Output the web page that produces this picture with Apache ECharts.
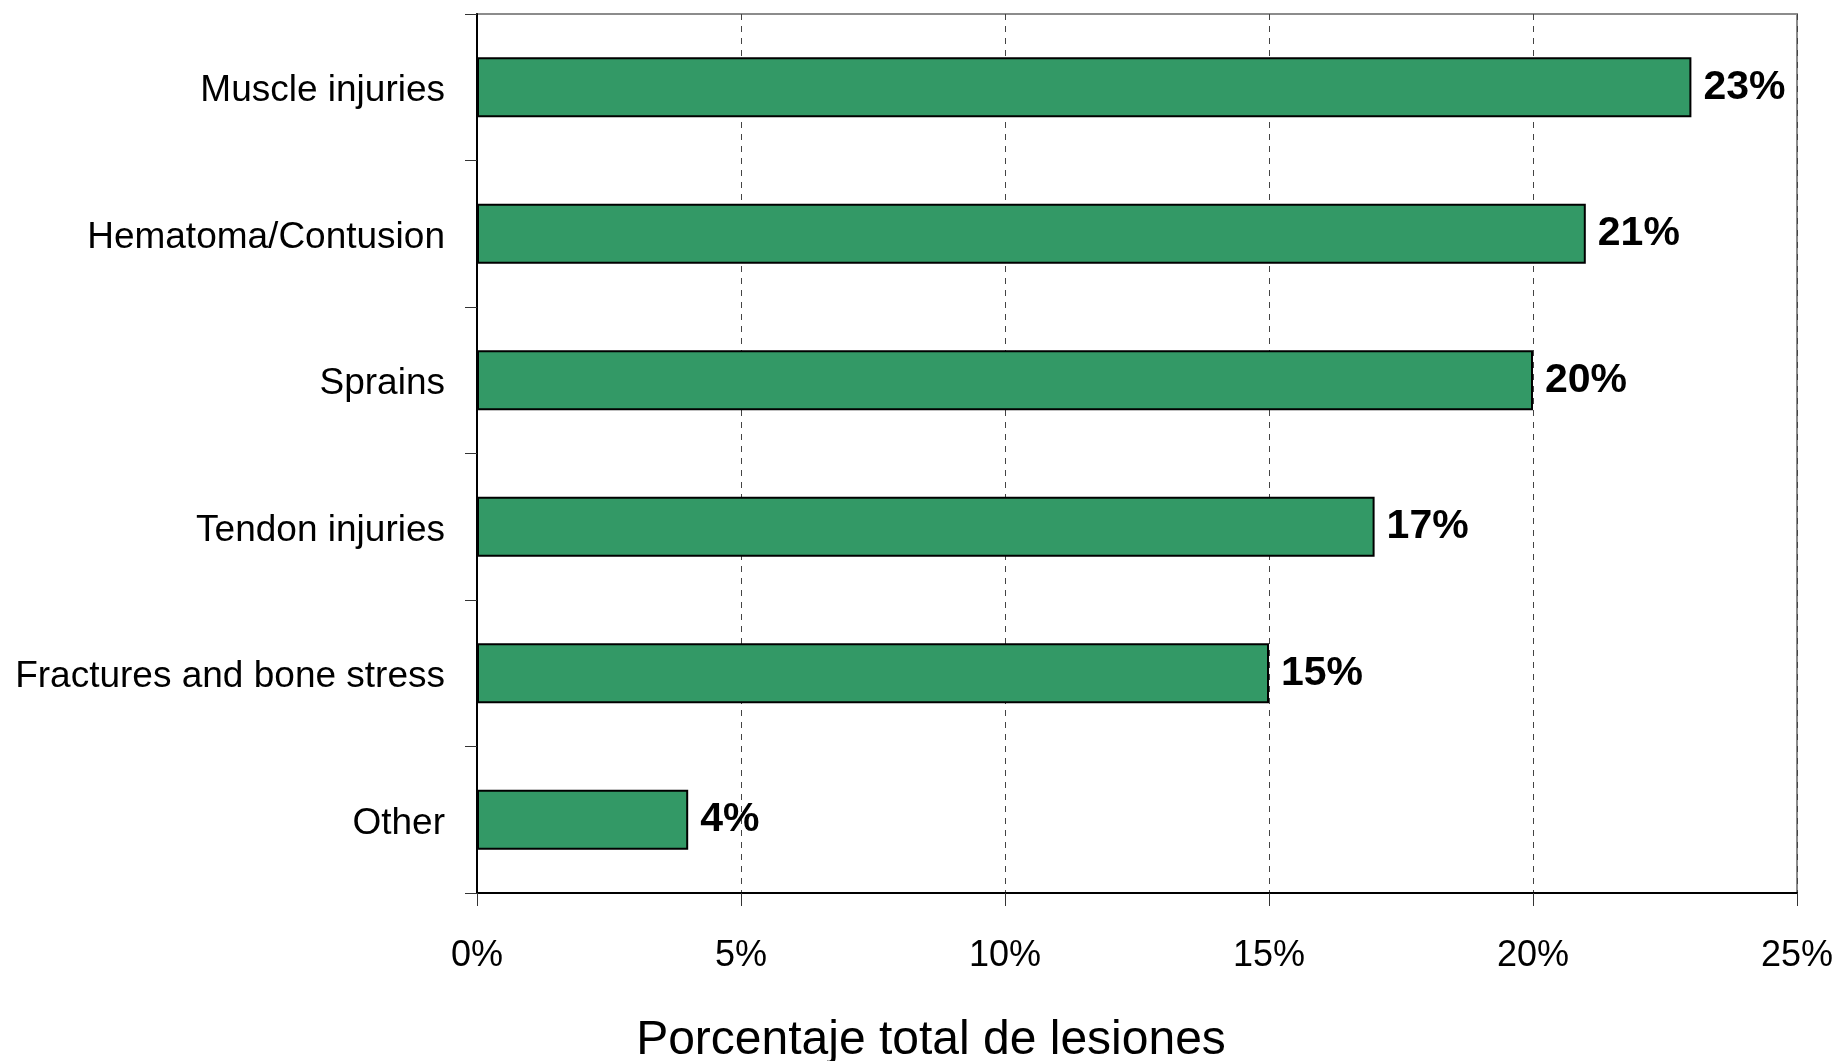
<!DOCTYPE html>
<html>
<head>
<meta charset="utf-8">
<style>
  html, body { margin: 0; padding: 0; background: #ffffff; }
  #chart { width: 1841px; height: 1061px; }
</style>
<script src="https://cdn.jsdelivr.net/npm/echarts@6/dist/echarts.min.js"></script>
</head>
<body>
<div id="chart"></div>
<script>
const categories = ['Muscle injuries', 'Hematoma/Contusion', 'Sprains', 'Tendon injuries', 'Fractures and bone stress', 'Other'];
const values = [23, 21, 20, 17, 15, 4];
const xTicks = { min: 0, max: 25, interval: 5 };
const axisTitle = 'Porcentaje total de lesiones';

const FONT = '"Liberation Sans", Arial, Helvetica, sans-serif';
const chart = echarts.init(document.getElementById('chart'), null, { renderer: 'canvas' });
chart.setOption({
  backgroundColor: '#ffffff',
  animation: false,
  title: {
    text: axisTitle,
    left: 926,
    top: 1012,
    textAlign: 'center',
    textStyle: { fontFamily: FONT, fontSize: 48, fontWeight: 'normal', color: '#000' }
  },
  grid: {
    left: 477, right: 44, top: 14, bottom: 168,
    show: true, borderColor: '#8c8c8c', borderWidth: 2, backgroundColor: 'transparent'
  },
  xAxis: {
    type: 'value',
    min: xTicks.min, max: xTicks.max, interval: xTicks.interval,
    axisLine: { show: true, lineStyle: { color: '#000', width: 2 } },
    axisTick: { show: true, inside: false, length: 13, lineStyle: { color: '#333', width: 1 } },
    axisLabel: {
      formatter: '{value}%', margin: 45,
      fontFamily: FONT, fontSize: 36, color: '#000'
    },
    splitLine: { show: true, lineStyle: { color: '#444', width: 1, type: [6, 6] } }
  },
  yAxis: {
    type: 'category',
    data: categories,
    inverse: true,
    axisLine: { show: true, lineStyle: { color: '#000', width: 2 } },
    axisTick: { show: true, inside: false, length: 12, lineStyle: { color: '#333', width: 1 } },
    axisLabel: {
      margin: 32, color: '#000',
      formatter: function (v) { return '{c|' + v + '}'; },
      rich: { c: { fontFamily: FONT, fontSize: 37, color: '#000', padding: [8, 0, 0, 0] } }
    },
    splitLine: { show: false }
  },
  series: [{
    type: 'bar',
    data: values,
    barWidth: 60,
    itemStyle: { color: '#339966', borderColor: '#000', borderWidth: 2 },
    label: {
      show: true, position: 'right', distance: 12,
      formatter: '{c}%',
      fontFamily: FONT, fontSize: 41, fontWeight: 'bold', color: '#000'
    }
  }]
});
</script>
</body>
</html>
